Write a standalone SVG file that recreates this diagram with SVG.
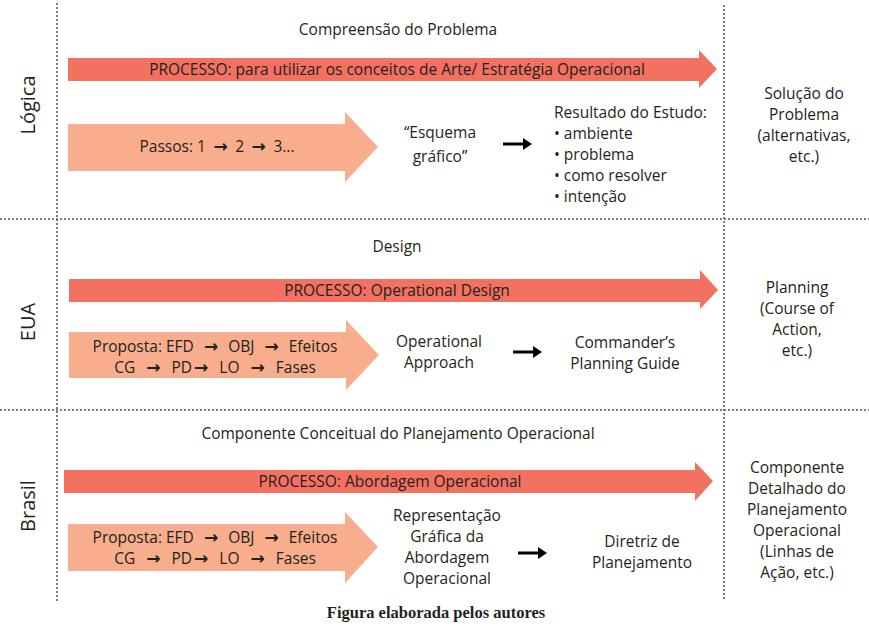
<svg xmlns="http://www.w3.org/2000/svg" width="869" height="627" viewBox="0 0 869 627">
<style>
  text { font-family: "Open Sans", "Liberation Sans", sans-serif; fill: #231F20; font-size: 15.5px; }
  .c { text-anchor: middle; }
  .ar { font-family: "DejaVu Sans", sans-serif; font-weight: bold; font-size: 17px; }
  .side { font-size: 20px; text-anchor: middle; }
  .cap { font-family: "Liberation Serif", serif; font-weight: bold; font-size: 16.5px; text-anchor: middle; }
  .grid { stroke: #555; stroke-width: 1.5; stroke-dasharray: 2 2; fill: none; }
  .red { fill: #F37160; }
  .light { fill: #F8AE8D; }
  .blk { stroke: #000; stroke-width: 3; fill: none; }
</style>
<defs>
  <marker id="ah" markerWidth="4" markerHeight="4" refX="1" refY="2" orient="auto" markerUnits="strokeWidth">
    <path d="M0,0 L3,2 L0,4 Z" fill="#000"/>
  </marker>
</defs>
<rect width="869" height="627" fill="#fff"/>

<g id="grid">
  <line class="grid" x1="57" y1="3" x2="57" y2="601"/>
  <line class="grid" x1="724" y1="5" x2="724" y2="601"/>
  <line class="grid" x1="0" y1="219" x2="869" y2="219"/>
  <line class="grid" x1="0" y1="410" x2="869" y2="410"/>
</g>

<g id="row-labels">
  <text class="side" transform="translate(35,105) rotate(-90)">Lógica</text>
  <text class="side" transform="translate(35,322) rotate(-90)">EUA</text>
  <text class="side" transform="translate(35,506) rotate(-90)">Brasil</text>
</g>

<!-- Row 1 -->
<g id="titulo1"><text class="c" x="398" y="35">Compreensão do Problema</text></g>
<g id="processo1">
  <polygon class="red" points="68,58 699,58 699,50 717,69 699,88 699,81 68,81"/>
  <text class="c" x="397" y="75">PROCESSO: para utilizar os conceitos de Arte/ Estratégia Operacional</text>
</g>
<g id="passos1">
  <polygon class="light" points="68,124 345,124 345,112 378,147 345,182 345,171 68,171"/>
  <text class="c" x="217" y="152">Passos: 1 <tspan class="ar" dx="3.5">→</tspan><tspan dx="3.5"> 2 </tspan><tspan class="ar" dx="3.5">→</tspan><tspan dx="3.5"> 3...</tspan></text>
</g>
<g id="esquema"><text class="c" x="440" y="138">“Esquema</text><text class="c" x="440" y="162">gráfico”</text></g>
<g id="resultado">
  <text x="554" y="118">Resultado do Estudo:</text>
  <text x="554" y="139">• ambiente</text>
  <text x="554" y="160">• problema</text>
  <text x="554" y="181">• como resolver</text>
  <text x="554" y="202">• intenção</text>
</g>
<g id="solucao">
  <text class="c" x="804" y="99">Solução do</text>
  <text class="c" x="804" y="120">Problema</text>
  <text class="c" x="804" y="141">(alternativas,</text>
  <text class="c" x="804" y="162">etc.)</text>
</g>

<!-- Row 2 -->
<g id="titulo2"><text class="c" x="397" y="252">Design</text></g>
<g id="processo2">
  <polygon class="red" points="69,279 700,279 700,270 718,290 700,309 700,302 69,302"/>
  <text class="c" x="397" y="296">PROCESSO: Operational Design</text>
</g>
<g id="proposta2">
  <polygon class="light" points="69,332 346,332 346,320 379,355 346,390 346,378 69,378"/>
  <text class="c" x="215" y="352">Proposta: EFD <tspan class="ar" dx="6">→</tspan><tspan dx="6"> OBJ </tspan><tspan class="ar" dx="6">→</tspan><tspan dx="6"> Efeitos</tspan></text>
  <text class="c" x="215" y="373">CG <tspan class="ar" dx="7">→</tspan><tspan dx="7"> PD</tspan><tspan class="ar" dx="2">→</tspan><tspan dx="7"> LO </tspan><tspan class="ar" dx="7">→</tspan><tspan dx="7"> Fases</tspan></text>
</g>
<g id="approach"><text class="c" x="439" y="347">Operational</text><text class="c" x="439" y="368">Approach</text></g>
<g id="commander"><text class="c" x="625" y="348">Commander’s</text><text class="c" x="625" y="369">Planning Guide</text></g>
<g id="planning">
  <text class="c" x="797" y="293">Planning</text>
  <text class="c" x="797" y="314">(Course of</text>
  <text class="c" x="797" y="335">Action,</text>
  <text class="c" x="797" y="356">etc.)</text>
</g>

<!-- Row 3 -->
<g id="titulo3"><text class="c" x="398" y="439">Componente Conceitual do Planejamento Operacional</text></g>
<g id="processo3">
  <polygon class="red" points="64,470 695,470 695,462 713,481 695,501 695,493 64,493"/>
  <text class="c" x="390" y="487">PROCESSO: Abordagem Operacional</text>
</g>
<g id="proposta3">
  <polygon class="light" points="68,524 345,524 345,512 378,547 345,583 345,571 68,571"/>
  <text class="c" x="215" y="543">Proposta: EFD <tspan class="ar" dx="6">→</tspan><tspan dx="6"> OBJ </tspan><tspan class="ar" dx="6">→</tspan><tspan dx="6"> Efeitos</tspan></text>
  <text class="c" x="215" y="564">CG <tspan class="ar" dx="7">→</tspan><tspan dx="7"> PD</tspan><tspan class="ar" dx="2">→</tspan><tspan dx="7"> LO </tspan><tspan class="ar" dx="7">→</tspan><tspan dx="7"> Fases</tspan></text>
</g>
<g id="representacao">
  <text class="c" x="447" y="521">Representação</text>
  <text class="c" x="447" y="542">Gráfica da</text>
  <text class="c" x="447" y="563">Abordagem</text>
  <text class="c" x="447" y="584">Operacional</text>
</g>
<g id="diretriz"><text class="c" x="642" y="547">Diretriz de</text><text class="c" x="642" y="568">Planejamento</text></g>
<g id="componente">
  <text class="c" x="797" y="473">Componente</text>
  <text class="c" x="797" y="494">Detalhado do</text>
  <text class="c" x="797" y="515">Planejamento</text>
  <text class="c" x="797" y="536">Operacional</text>
  <text class="c" x="797" y="557">(Linhas de</text>
  <text class="c" x="797" y="578">Ação, etc.)</text>
</g>

<g id="connectors">
  <line class="blk" x1="503" y1="144" x2="526" y2="144" marker-end="url(#ah)"/>
  <line class="blk" x1="513" y1="352" x2="536" y2="352" marker-end="url(#ah)"/>
  <line class="blk" x1="518" y1="553" x2="541" y2="553" marker-end="url(#ah)"/>
</g>

<text class="cap" x="436" y="618">Figura elaborada pelos autores</text>
</svg>
